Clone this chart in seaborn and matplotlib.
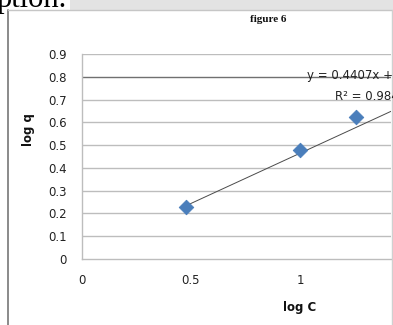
import matplotlib
matplotlib.use("Agg")
import matplotlib.pyplot as plt
import seaborn as sns
import pandas as pd
import numpy as np
from matplotlib.patches import Rectangle
from matplotlib.lines import Line2D

# Freundlich isotherm data (log-log)
log_c = [0.477, 1.0, 1.255]
log_q = [0.23, 0.478, 0.624]

# Linear trendline reported on the chart
slope = 0.4407
intercept = 0.0236
r_squared = 0.9844

y_ticks = [0, 0.1, 0.2, 0.3, 0.4, 0.5, 0.6, 0.7, 0.8, 0.9]
x_ticks = [0, 0.5, 1]

sns.set_theme(style="white")
plt.rcParams["font.family"] = ["DejaVu Sans"]

W, H = 393, 325
fig = plt.figure(figsize=(W / 100, H / 100), dpi=100)
fig.patch.set_facecolor("white")

def px(x, y):
    return x / W, 1 - y / H

# document strip above the chart frame
fig.patches.append(Rectangle(px(70, 10), (W - 70) / W, 10 / H,
                             transform=fig.transFigure, facecolor="#e3e3e3",
                             edgecolor="none", zorder=0))
fig.text(*px(-3, 7), "ption.", fontsize=22, family="Liberation Serif",
         color="black", va="baseline", ha="left")

# chart frame
fig.lines.append(Line2D([8 / W, 8 / W], [1 - 10 / H, 0], transform=fig.transFigure,
                        color="#8a8a8a", lw=1.4))
fig.lines.append(Line2D([8 / W, 392 / W], [1 - 10 / H, 1 - 10 / H],
                        transform=fig.transFigure, color="#c6c6c6", lw=1.0))
fig.lines.append(Line2D([392 / W, 392 / W], [1 - 10 / H, 0], transform=fig.transFigure,
                        color="#d0d0d0", lw=1.0))

# plot area
left, right, top, bottom = 82, 391, 54, 259
ax = fig.add_axes([left / W, 1 - bottom / H, (right - left) / W, (bottom - top) / H])
x_max = (right - left) / 218.0
ax.set_xlim(0, x_max)
ax.set_ylim(0, 0.9)

for t in y_ticks[1:]:
    ax.axhline(t, color="#707070" if abs(t - 0.8) < 1e-9 else "#bdbdbd",
               lw=1.0, zorder=0)

df = pd.DataFrame({"log C": log_c, "log q": log_q})

fit_x = np.array([log_c[0], x_max])
fit_df = pd.DataFrame({"x": fit_x, "y": slope * fit_x + intercept})
sns.lineplot(data=fit_df, x="x", y="y", ax=ax, color="#4a4a4a", lw=0.7, zorder=2)

sns.scatterplot(data=df, x="log C", y="log q", ax=ax, marker="D", s=55,
                color="#4a7ebb", edgecolor="#4a7ebb", zorder=3)

ax.set_yticks(y_ticks)
ax.set_yticklabels(["0" if t == 0 else f"{t:g}" for t in y_ticks])
ax.set_xticks(x_ticks)
ax.set_xticklabels(["0", "0.5", "1"])
ax.tick_params(axis="both", length=0, labelsize=8.5, colors="#222222")
ax.tick_params(axis="y", pad=11)
ax.tick_params(axis="x", pad=11)

for s in ["top", "right"]:
    ax.spines[s].set_visible(False)
ax.spines["left"].set_color("#bdbdbd")
ax.spines["bottom"].set_color("#bdbdbd")
ax.spines["left"].set_linewidth(1.0)
ax.spines["bottom"].set_linewidth(1.0)

ax.set_xlabel("log C", fontsize=8.5, fontweight="bold", color="#111111")
ax.set_ylabel("log q", fontsize=8.5, fontweight="bold", color="#111111")
ax.xaxis.set_label_coords((300 - left) / (right - left), -(301 - bottom) / (bottom - top))
ax.yaxis.set_label_coords(-(left - 35) / (right - left), (bottom - 130) / (bottom - top))

fig.text(*px(268, 20), "figure 6", fontsize=8, family="Liberation Serif",
         fontweight="bold", ha="center", va="center", color="#111111")

fig.text(*px(307, 76), f"y = {slope}x + {intercept}", fontsize=8.5,
         ha="left", va="center", color="#222222")
fig.text(*px(335, 96), f"R² = {r_squared}", fontsize=8.5,
         ha="left", va="center", color="#222222")

fig.savefig("out.png", dpi=100)
